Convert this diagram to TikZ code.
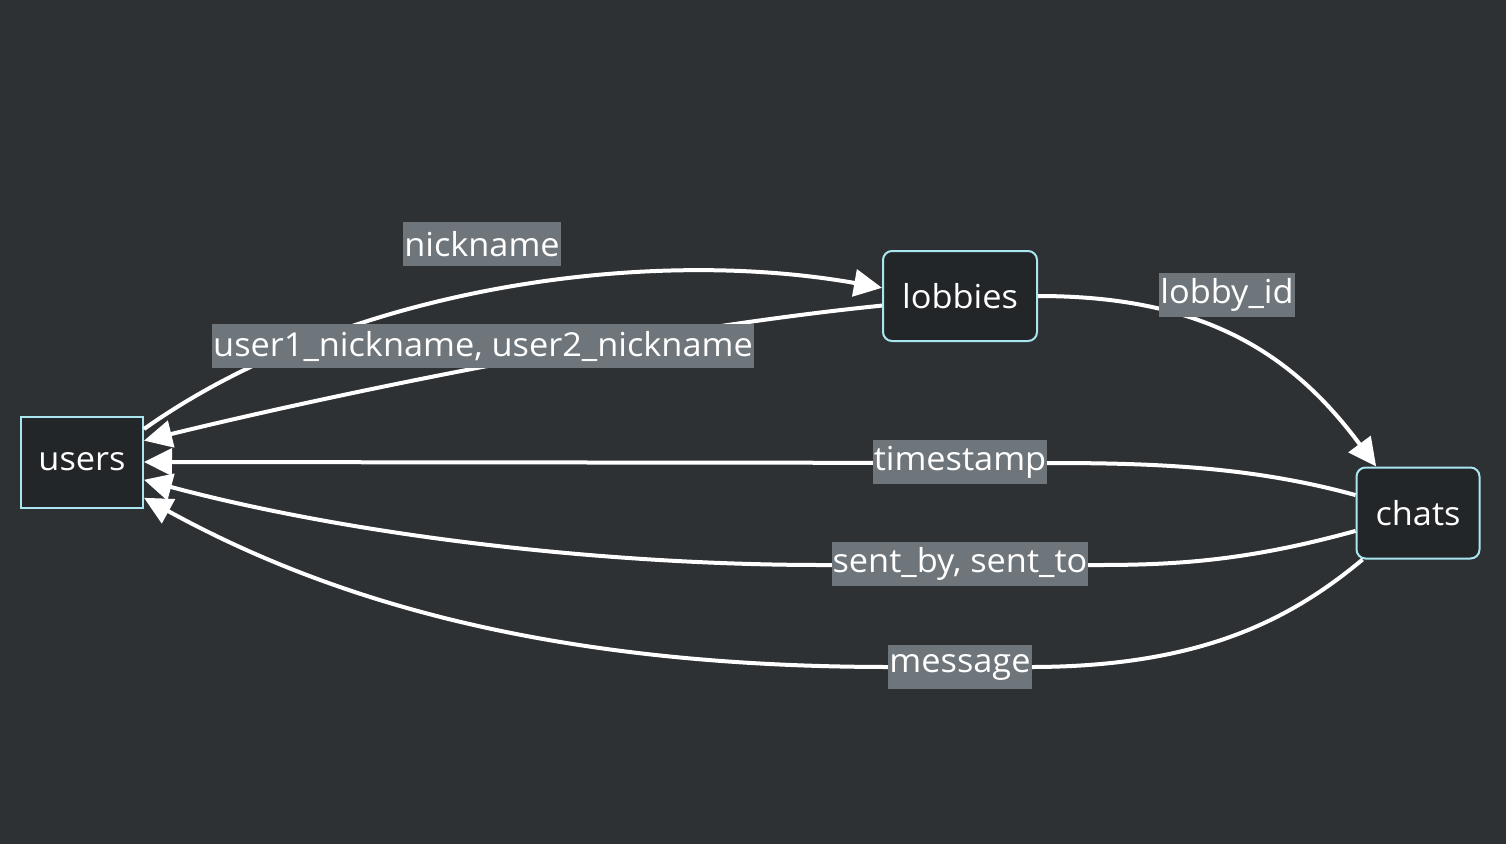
\documentclass[tikz,border=0pt]{standalone}
\usepackage{fontspec}
\setmainfont{Open Sans}[FakeStretch=1.04]
\usetikzlibrary{arrows.meta}
\definecolor{bgcol}{RGB}{46,49,52}
\definecolor{tblfill}{RGB}{35,38,41}
\definecolor{tblline}{RGB}{170,230,240}
\definecolor{lblfill}{RGB}{111,118,123}

\begin{document}
\begin{tikzpicture}[x=1pt,y=-1pt,font=\fontsize{33}{39}\selectfont,
    tbl/.style={draw=tblline,line width=2pt,fill=tblfill,text=white,minimum height=91pt},
    lbl/.style={fill=lblfill,text=white,minimum height=44pt,inner xsep=1pt,inner ysep=0pt},
    rel/.style={-{Triangle[length=28pt,width=27pt]},white,line width=4pt}]
    \fill[bgcol] (0,0) rectangle (1506,844);
    % tables
    \node[tbl,minimum width=122pt] (users) at (82,462) {users};
    \node[tbl,rounded corners=9pt,minimum width=154pt,minimum height=90pt] (lobbies) at (960,296) {lobbies};
    \node[tbl,rounded corners=9pt,minimum width=123pt] (chats) at (1418,513) {chats};
    % relations
    \draw[rel] (users.28) .. controls (340,290) and (640,245) .. (lobbies.174);
    \draw[rel] (lobbies.187) .. controls (650,329) and (343,392) .. (users.19);
    \draw[rel] (lobbies.east) .. controls (1200,296) and (1290,350) .. (chats.132);
    \draw[rel] (chats.164) .. controls (1250,466) and (1150,463) .. (1048,463) -- (users.east);
    \draw[rel] (chats.196) .. controls (1250,560) and (1180,565) .. (1098,565) -- (823,565)
        .. controls (600,565) and (350,535) .. (users.-16);
    \draw[rel] (chats.220) .. controls (1290,620) and (1200,667) .. (1030,667) -- (891,667)
        .. controls (550,667) and (330,600) .. (users.-30);
    % labels
    \node[lbl] (nickLbl) at (482,244) {nickname};
    \node[lbl] (pairLbl) at (483,346) {user1\_nickname, user2\_nickname};
    \node[lbl] (lobbyLbl) at (1227,295) {lobby\_id};
    \node[lbl] (tsLbl) at (960,462) {timestamp};
    \node[lbl] (sentLbl) at (960,564) {sent\_by, sent\_to};
    \node[lbl] (msgLbl) at (960,667) {message};
\end{tikzpicture}
\end{document}
